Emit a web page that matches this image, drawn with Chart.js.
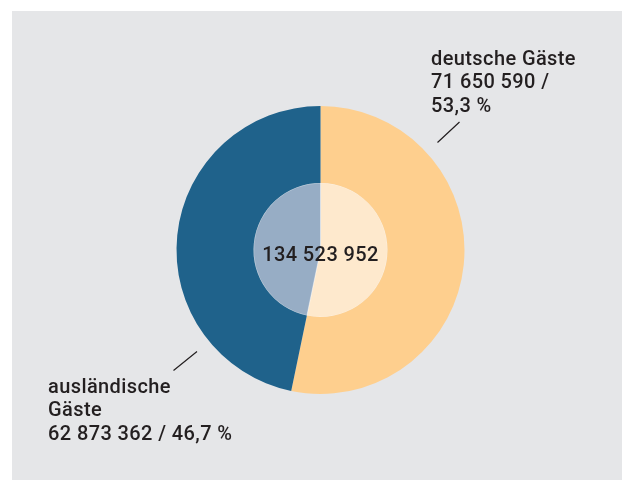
<!DOCTYPE html>
<html>
<head>
<meta charset="utf-8">
<script src="https://cdn.jsdelivr.net/npm/chart.js@4"></script>
<style>
  html, body { margin: 0; padding: 0; background: #ffffff; }
  #wrap { position: relative; width: 622px; height: 480px; }
  #panel { position: absolute; left: 12px; top: 11px; right: 0; bottom: 0; background: #e5e6e8; }
  #graph { position: absolute; left: 0; top: 0; }
</style>
</head>
<body>
<div id="wrap">
  <div id="panel"></div>
  <canvas id="graph" width="622" height="480"></canvas>
</div>
<script>
// Kategorien und Werte
var categories = ['deutsche Gäste', 'ausländische Gäste'];
var guests = [71650590, 62873362];
var shares = ['53,3 %', '46,7 %'];
var total = '134 523 952';

var outerColors = ['#fecf8e', '#1f628b'];
var innerColors = ['#fee9cd', '#97adc5'];

// Beschriftungen am Rand
var labelPlugin = {
  id: 'labels',
  afterDraw: function(chart) {
    var ctx = chart.ctx;
    ctx.save();
    ctx.fillStyle = '#231f20';
    ctx.font = '500 20px Roboto, "Liberation Sans", Arial, sans-serif';
    ctx.letterSpacing = '0.4px';
    ctx.textBaseline = 'alphabetic';

    // Summe in der Mitte
    var meta = chart.getDatasetMeta(0).data[0];
    ctx.textAlign = 'center';
    ctx.fillText(total, meta.x, meta.y + 11);

    ctx.textAlign = 'left';
    ctx.fillText('deutsche Gäste', 431, 65);
    ctx.fillText('71 650 590 /', 431, 88);
    ctx.fillText(shares[0], 431, 112);

    ctx.fillText('ausländische', 48, 393);
    ctx.fillText('Gäste', 48, 416);
    ctx.fillText('62 873 362 / ' + shares[1], 48, 440);

    // Linien
    ctx.strokeStyle = '#231f20';
    ctx.lineWidth = 1.2;
    ctx.beginPath();
    ctx.moveTo(459.5, 122);
    ctx.lineTo(437.5, 142.5);
    ctx.moveTo(197, 351.5);
    ctx.lineTo(173.5, 370.5);
    ctx.stroke();
    ctx.restore();
  }
};

var ctx = document.getElementById('graph').getContext('2d');
var chart = new Chart(ctx, {
  type: 'doughnut',
  data: {
    labels: categories,
    datasets: [
      {
        data: guests,
        backgroundColor: outerColors,
        borderWidth: 0,
        hoverOffset: 0,
        weight: 77
      },
      {
        data: guests,
        backgroundColor: innerColors,
        borderColor: 'rgba(255,255,255,0.35)',
        borderWidth: 1,
        hoverOffset: 0,
        weight: 67
      }
    ]
  },
  options: {
    responsive: false,
    animation: false,
    cutout: 0,
    layout: {
      padding: { left: 176, right: 157, top: 106, bottom: 86 }
    },
    plugins: {
      legend: { display: false },
      tooltip: { enabled: false }
    }
  },
  plugins: [labelPlugin]
});
</script>
</body>
</html>
